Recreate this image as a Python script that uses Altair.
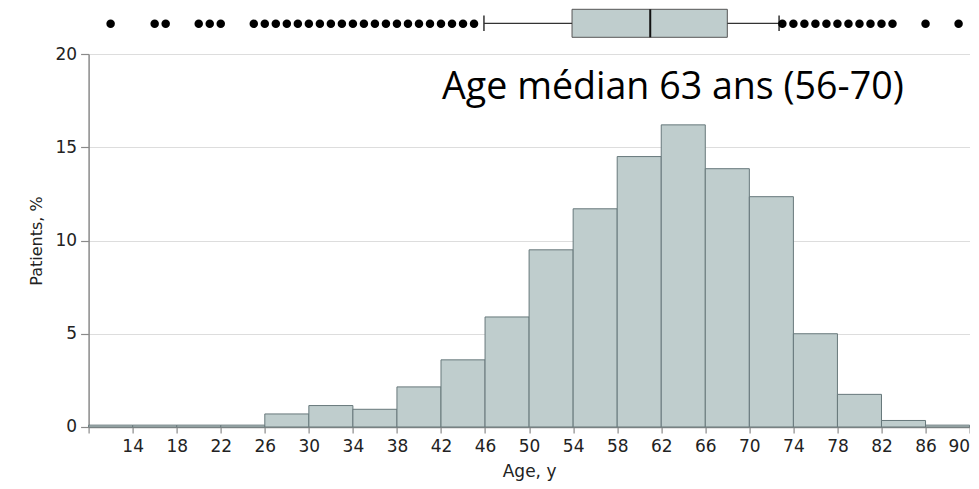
import altair as alt
import pandas as pd

# Histogram bins (age, years) and share of patients (%)
bin_start = [10, 14, 18, 22, 26, 30, 34, 38, 42, 46, 50, 54, 58, 62, 66, 70, 74, 78, 82, 86]
bin_end = [14, 18, 22, 26, 30, 34, 38, 42, 46, 50, 54, 58, 62, 66, 70, 74, 78, 82, 86, 90]
patients_pct = [0.1, 0.1, 0.1, 0.1, 0.7, 1.15, 0.95, 2.15, 3.6, 5.9, 9.5, 11.7,
                14.5, 16.2, 13.85, 12.35, 5.0, 1.75, 0.35, 0.1]

# Box plot summary
whisker_low = [45.9]
quartile_1 = [53.9]
median_age = [61.0]
quartile_3 = [68.0]
whisker_high = [72.7]

# Outlying ages shown as dots
outlier_ages = [12, 16, 17, 20, 21, 22,
                25, 26, 27, 28, 29, 30, 31, 32, 33, 34, 35, 36, 37, 38, 39, 40, 41, 42, 43, 44, 45,
                73, 74, 75, 76, 77, 78, 79, 80, 81, 82, 83, 86, 89]

x_ticks = [10, 14, 18, 22, 26, 30, 34, 38, 42, 46, 50, 54, 58, 62, 66, 70, 74, 78, 82, 86, 90]
y_ticks = [0, 5, 10, 15, 20]

annotation = ["Age médian 63 ans (56-70)"]
annotation_age = 42.1
annotation_pct = 17.6

hist_df = pd.DataFrame({"start": bin_start, "end": bin_end, "pct": patients_pct})
box_df = pd.DataFrame({"lo": whisker_low, "q1": quartile_1, "med": median_age,
                       "q3": quartile_3, "hi": whisker_high})
out_df = pd.DataFrame({"age": outlier_ages})
txt_df = pd.DataFrame({"t": annotation, "age": [annotation_age], "pct": [annotation_pct]})

FILL = "#bfcdcd"
EDGE = "#66777a"
AXC = "#8a8a8a"
FONT = "DejaVu Sans"

xscale = alt.Scale(domain=[10, 90], nice=False, zero=False)
yscale = alt.Scale(domain=[0, 20], nice=False)

x_axis = alt.Axis(values=x_ticks, title="Age, y", grid=False,
                  labelExpr="datum.value == 10 ? '' : datum.label",
                  tickSize=6, labelPadding=6, titlePadding=9)
y_axis = alt.Axis(values=y_ticks, title="Patients, %", grid=True,
                  gridColor="#dddddd", tickSize=8, labelPadding=4, titlePadding=10)


def X(field):
    return alt.X(field, scale=xscale, axis=x_axis, title="Age, y")


bars = alt.Chart(hist_df).mark_bar(fill=FILL, stroke=EDGE, strokeWidth=1, opacity=1).encode(
    x=X("start:Q"),
    x2="end:Q",
    y=alt.Y("pct:Q", scale=yscale, axis=y_axis, title="Patients, %"),
    y2=alt.datum(0),
)

box = alt.Chart(box_df).mark_rect(fill=FILL, stroke="#555555", strokeWidth=1).encode(
    x=X("q1:Q"), x2="q3:Q",
    y=alt.value(-44.7), y2=alt.value(-16.7))

med = alt.Chart(box_df).mark_rule(color="#111111", strokeWidth=2).encode(
    x=X("med:Q"), y=alt.value(-44.7), y2=alt.value(-16.7))

wl = alt.Chart(box_df).mark_rule(color="#333333", strokeWidth=1.3).encode(
    x=X("lo:Q"), x2="q1:Q", y=alt.value(-30.7))
wh = alt.Chart(box_df).mark_rule(color="#333333", strokeWidth=1.3).encode(
    x=X("q3:Q"), x2="hi:Q", y=alt.value(-30.7))
cap_l = alt.Chart(box_df).mark_rule(color="#333333", strokeWidth=1.5).encode(
    x=X("lo:Q"), y=alt.value(-38.5), y2=alt.value(-23))
cap_h = alt.Chart(box_df).mark_rule(color="#333333", strokeWidth=1.5).encode(
    x=X("hi:Q"), y=alt.value(-38.5), y2=alt.value(-23))

dots = alt.Chart(out_df).mark_circle(color="#000000", size=72, opacity=1).encode(
    x=X("age:Q"), y=alt.value(-30.2))

text = alt.Chart(txt_df).mark_text(font="Open Sans", fontSize=37.6, align="left",
                                   baseline="alphabetic", color="#000000").encode(
    x=X("age:Q"),
    y=alt.Y("pct:Q", scale=yscale, axis=y_axis, title="Patients, %"),
    text="t:N")

chart = alt.layer(bars, box, wl, wh, cap_l, cap_h, med, dots, text).properties(
    width=881, height=373,
    padding={"left": 80.6, "top": 46, "right": 0, "bottom": 54},
    autosize=alt.AutoSizeParams(type="none"),
).configure_view(stroke=None).configure_axis(
    labelFont=FONT, titleFont=FONT, labelFontSize=17, titleFontSize=16,
    titleFontWeight="normal", labelColor="#222222", titleColor="#222222",
    domainColor=AXC, tickColor=AXC, domainWidth=1.5, tickWidth=1.2,
).configure_axisX(titleFontSize=17)

chart.save("out.html", embed_options={"renderer": "svg", "actions": False})
